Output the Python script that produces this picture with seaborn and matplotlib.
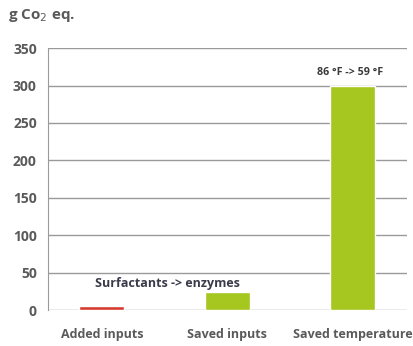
import pandas as pd
import matplotlib.pyplot as plt
import seaborn as sns

categories = ["Added inputs", "Saved inputs", "Saved temperature"]
values = [5, 24, 300]
barColors = ["#d63b2f", "#a6c620", "#a6c620"]
annotations = ["", "Surfactants -> enzymes", "86 °F -> 59 °F"]
yTicks = [0, 50, 100, 150, 200, 250, 300, 350]

df = pd.DataFrame({"category": categories, "value": values})

sns.set_style("white")
plt.rcParams['font.family'] = ['Open Sans', 'DejaVu Sans']

fig = plt.figure(figsize=(4.13, 3.46), dpi=100)
ax = fig.add_axes([0.116, 0.104, 0.869, 0.757])

sns.barplot(data=df, x="category", y="value", hue="category", palette=barColors,
            legend=False, width=0.36, saturation=1, ax=ax, zorder=3)

ax.set_ylim(0, 350)
ax.set_xlim(-0.43, 2.43)
ax.set_yticks(yTicks)
ax.yaxis.grid(True, color="#9a9a9a", linewidth=1.0, zorder=0)
ax.set_xlabel("")
ax.set_ylabel("")
for side in ["top", "right", "bottom"]:
    ax.spines[side].set_visible(False)
ax.spines["left"].set_color("#9a9a9a")
ax.tick_params(axis="y", length=0, pad=8, labelsize=10, labelcolor="#5a5a5a")
ax.tick_params(axis="x", length=0, pad=13, labelsize=9, labelcolor="#5a5a5a")
for lbl in ax.get_yticklabels() + ax.get_xticklabels():
    lbl.set_fontweight("bold")

# bar annotations
ax.text(0.52, 36, annotations[1], ha="center", va="center", fontsize=9,
        fontweight="bold", color="#3a3a4a")
ax.text(1.98, 318, annotations[2], ha="center", va="center", fontsize=7.7,
        fontweight="bold", color="#3a3a3a")

fig.text(0.02, 0.955, "g Co$_2$ eq.", ha="left", va="center", fontsize=11,
         fontweight="bold", color="#5a5a5a")

fig.savefig("out.png", dpi=100)
